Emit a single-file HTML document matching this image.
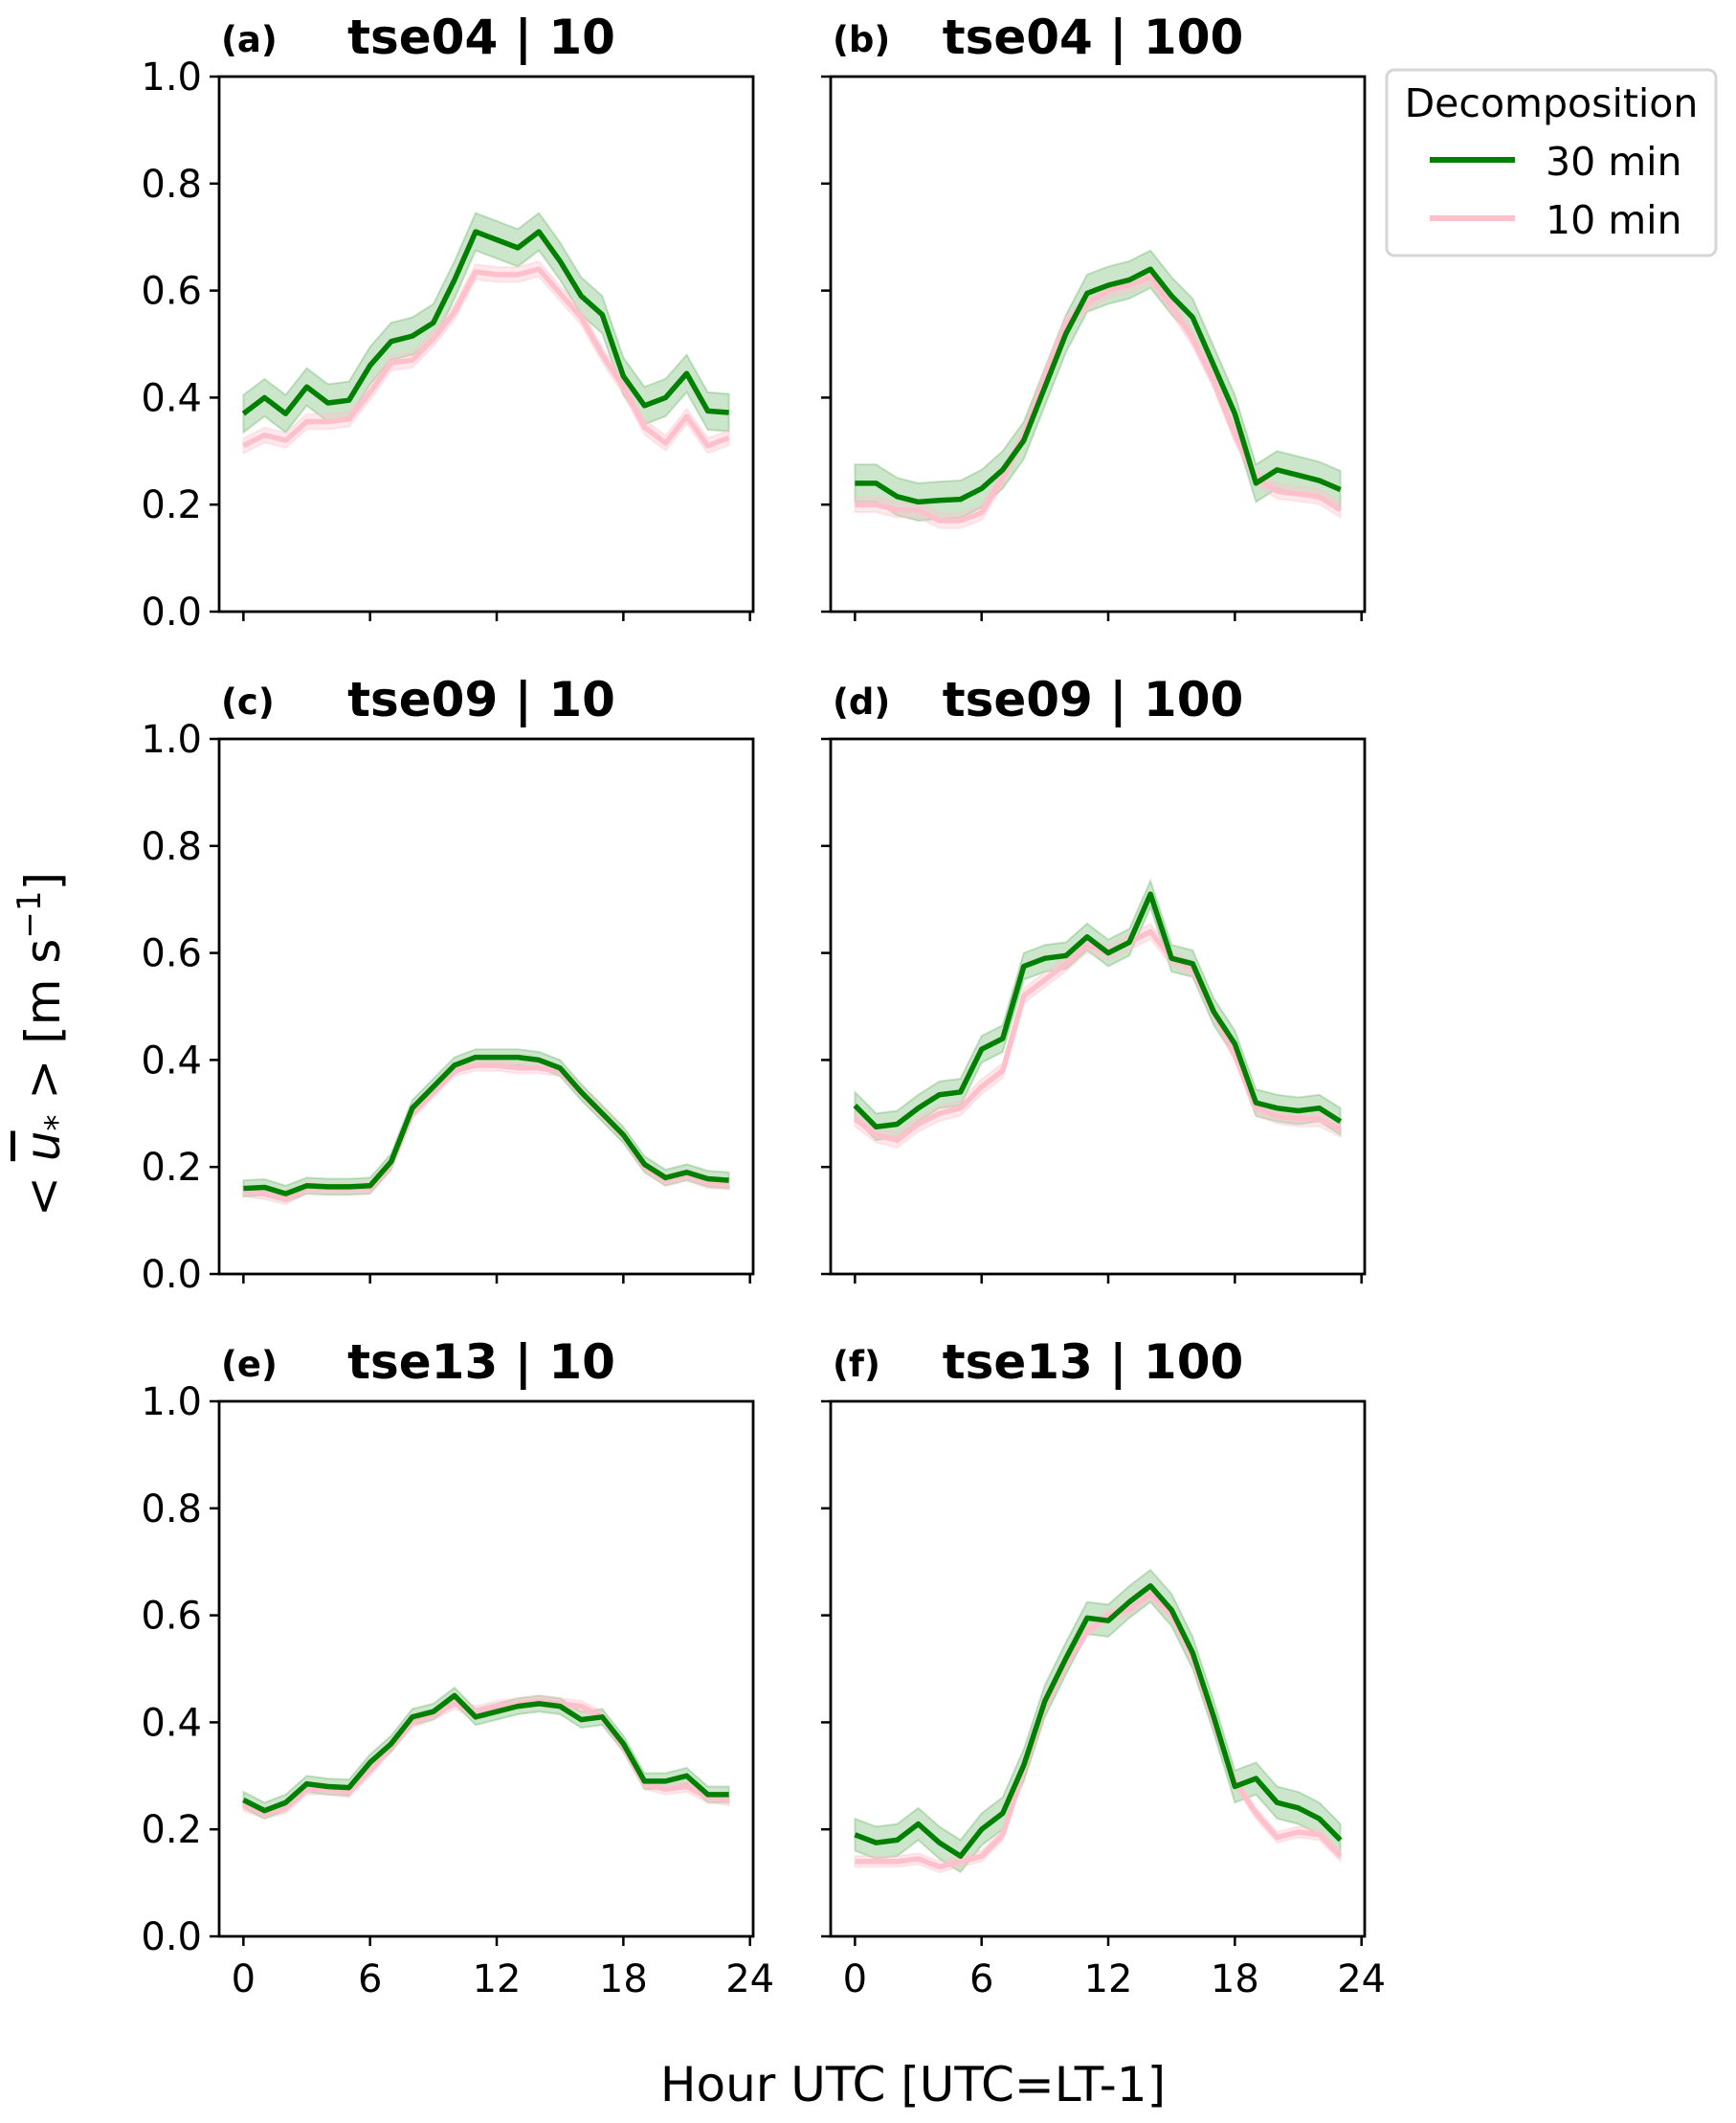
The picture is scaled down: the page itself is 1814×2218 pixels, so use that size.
<!DOCTYPE html>
<html><head><meta charset="utf-8"><style>
body{margin:0;background:#fff;}
svg{display:block;font-family:"DejaVu Sans","Liberation Sans",sans-serif;}
</style></head><body>
<svg id="fig" width="1814" height="2218" viewBox="0 0 1814 2218" xmlns="http://www.w3.org/2000/svg">
<rect width="1814" height="2218" fill="#fff"/>
<text transform="translate(62,1091) rotate(-90)" text-anchor="middle" font-size="50">&lt; <tspan font-style="italic" text-decoration="overline">u</tspan><tspan font-style="italic" font-size="34" dy="9">*</tspan><tspan dy="-9"> &gt;  [m s</tspan><tspan font-size="34" dy="-20">−1</tspan><tspan dy="20">]</tspan></text>
<text x="954" y="2195" text-anchor="middle" font-size="50">Hour UTC [UTC=LT-1]</text>
<g>
<rect x="1449" y="73" width="344" height="194" rx="8" fill="#fff" stroke="#d6d6d6" stroke-width="3"/>
<text x="1621" y="122" text-anchor="middle" font-size="41">Decomposition</text>
<line x1="1494" y1="167" x2="1583" y2="167" stroke="#008000" stroke-width="6"/>
<text x="1615" y="183" font-size="41">30 min</text>
<line x1="1494" y1="228" x2="1583" y2="228" stroke="#ffc0cb" stroke-width="6"/>
<text x="1615" y="244" font-size="41">10 min</text>
</g>
</svg>
<script>
const hours=[0,1,2,3,4,5,6,7,8,9,10,11,12,13,14,15,16,17,18,19,20,21,22,23];
const xTicks=[0,6,12,18,24];
const yTicks=[0.0,0.2,0.4,0.6,0.8,1.0];
const panelLetters=['(a)','(b)','(c)','(d)','(e)','(f)'];
const panelTitles=['tse04 | 10','tse04 | 100','tse09 | 10','tse09 | 100','tse13 | 10','tse13 | 100'];
const greenA=[0.37,0.40,0.37,0.42,0.39,0.395,0.46,0.505,0.515,0.54,0.62,0.71,0.695,0.68,0.71,0.655,0.59,0.555,0.44,0.385,0.40,0.445,0.375,0.372];
const pinkA=[0.31,0.33,0.32,0.355,0.355,0.36,0.41,0.465,0.47,0.51,0.56,0.635,0.63,0.63,0.64,0.595,0.55,0.48,0.42,0.345,0.315,0.365,0.31,0.325];
const greenB=[0.24,0.24,0.215,0.205,0.208,0.21,0.23,0.265,0.32,0.42,0.52,0.595,0.61,0.62,0.64,0.59,0.55,0.46,0.37,0.24,0.265,0.255,0.245,0.228];
const pinkB=[0.20,0.20,0.19,0.19,0.17,0.17,0.185,0.25,0.33,0.44,0.54,0.575,0.60,0.61,0.625,0.57,0.51,0.43,0.33,0.25,0.225,0.22,0.215,0.19];
const greenC=[0.16,0.162,0.15,0.165,0.163,0.163,0.165,0.21,0.31,0.35,0.39,0.405,0.405,0.405,0.40,0.385,0.34,0.30,0.26,0.205,0.18,0.19,0.178,0.175];
const pinkC=[0.155,0.15,0.14,0.16,0.16,0.16,0.16,0.205,0.30,0.34,0.38,0.39,0.39,0.385,0.385,0.38,0.34,0.30,0.26,0.20,0.175,0.185,0.17,0.168];
const greenD=[0.315,0.275,0.28,0.31,0.335,0.34,0.42,0.44,0.575,0.59,0.595,0.63,0.60,0.62,0.71,0.59,0.58,0.49,0.43,0.32,0.31,0.305,0.31,0.285];
const pinkD=[0.29,0.26,0.25,0.28,0.30,0.31,0.35,0.38,0.52,0.55,0.58,0.615,0.60,0.62,0.64,0.59,0.57,0.49,0.41,0.31,0.295,0.29,0.29,0.27];
const greenE=[0.255,0.235,0.25,0.285,0.28,0.278,0.325,0.36,0.41,0.42,0.45,0.41,0.42,0.43,0.435,0.43,0.405,0.41,0.36,0.29,0.29,0.30,0.265,0.265];
const pinkE=[0.245,0.23,0.24,0.275,0.275,0.27,0.31,0.355,0.40,0.415,0.435,0.42,0.43,0.435,0.44,0.435,0.43,0.41,0.355,0.285,0.275,0.28,0.26,0.255];
const greenF=[0.19,0.175,0.18,0.21,0.175,0.15,0.20,0.23,0.32,0.44,0.52,0.595,0.59,0.625,0.655,0.61,0.53,0.41,0.28,0.295,0.25,0.24,0.22,0.18];
const pinkF=[0.14,0.14,0.14,0.145,0.13,0.14,0.15,0.19,0.31,0.43,0.51,0.57,0.60,0.61,0.64,0.60,0.52,0.40,0.29,0.23,0.185,0.195,0.19,0.15];
const greenBand=[0.035,0.035,0.015,0.025,0.015,0.03];
const pinkBand=[0.014,0.014,0.01,0.014,0.01,0.01];
const greens=[greenA,greenB,greenC,greenD,greenE,greenF];
const pinks=[pinkA,pinkB,pinkC,pinkD,pinkE,pinkF];

const NS='http://www.w3.org/2000/svg';
const svg=document.getElementById('fig');
function mk(tag,attrs,parent){const e=document.createElementNS(NS,tag);for(const k in attrs)e.setAttribute(k,attrs[k]);(parent||svg).appendChild(e);return e;}
const lefts=[229,868], tops=[80,772,1464], W=558, H=559;
const xmin=-1.15,xmax=24.15;
for(let p=0;p<6;p++){
  const L=lefts[p%2],T=tops[Math.floor(p/2)];
  const sx=v=>L+(v-xmin)/(xmax-xmin)*W;
  const sy=v=>T+H-v*H;
  const g=mk('g',{});
  
  
  function band(arr,w,fill,op,stroke){
    let d='M'+hours.map((h,i)=>sx(h)+','+sy(arr[i]+w)).join('L');
    d+='L'+hours.slice().reverse().map((h,j)=>{const i=hours.length-1-j;return sx(h)+','+sy(arr[i]-w);}).join('L')+'Z';
    return mk('path',{d:d,fill:fill,'fill-opacity':op,stroke:stroke,'stroke-opacity':op,'stroke-width':2},g);
  }
  function line(arr,c){return mk('path',{d:'M'+hours.map((h,i)=>sx(h)+','+sy(arr[i])).join('L'),fill:'none',stroke:c,'stroke-width':5.5,'stroke-linejoin':'round'},g);}
  const b1=band(greens[p],greenBand[p],'#008000',0.2,'#008000');
  
  
  const b2=band(pinks[p],pinkBand[p],'#ffc0cb',0.35,'#ffc0cb');
  
  
  const l2=line(pinks[p],'#ffc0cb');
  
  
  const l1=line(greens[p],'#008000');
  
  
  const fr=mk('rect',{x:L,y:T,width:W,height:H,fill:'none',stroke:'#000','stroke-width':2.8},g);
  
  
  yTicks.forEach(v=>{
    mk('line',{x1:L-10,x2:L,y1:sy(v),y2:sy(v),stroke:'#000','stroke-width':2.5},g);
    if(p%2===0){const t=mk('text',{x:L-18,y:sy(v)+14,'text-anchor':'end','font-size':40},g);t.textContent=v.toFixed(1);
      
      }
  });
  xTicks.forEach(v=>{
    mk('line',{x1:sx(v),x2:sx(v),y1:T+H,y2:T+H+10,stroke:'#000','stroke-width':2.5},g);
    if(p>=4){const t=mk('text',{x:sx(v),y:T+H+58,'text-anchor':'middle','font-size':40},g);t.textContent=v;
      
      }
  });
  const lt=mk('text',{x:L+2,y:T-26,'font-size':37,'font-weight':'bold'},g);lt.textContent=panelLetters[p];
  
  
  const tt=mk('text',{x:L+W/2-5,y:T-24,'text-anchor':'middle','font-size':50,'font-weight':'bold'},g);tt.textContent=panelTitles[p];
  
  
}
</script>
</body></html>
